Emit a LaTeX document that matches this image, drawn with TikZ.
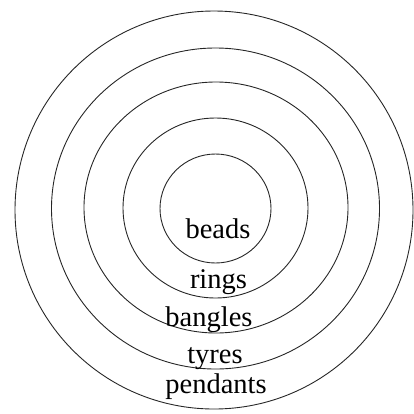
\documentclass[tikz,border=0pt]{standalone}
\usepackage{fontspec}
\setmainfont{Liberation Serif}
\begin{document}
\begin{tikzpicture}[x=1pt,y=-1pt,
  ring/.style={draw=black!85,line width=0.9pt},
  lbl/.style={anchor=base,inner sep=0pt,font=\fontsize{28.5}{30}\selectfont}]
\useasboundingbox (0,0) rectangle (414,413);
\draw[ring] (214,210) ellipse [x radius=199,y radius=199];
\draw[ring] (215.5,208.5) ellipse [x radius=164,y radius=160.5];
\draw[ring] (216,207.5) ellipse [x radius=132,y radius=125.5];
\draw[ring] (215.5,208) ellipse [x radius=92.5,y radius=90];
\draw[ring] (215.5,208.5) ellipse [x radius=55.5,y radius=54.5];
\node[lbl] (beads) at (218,238) {beads};
\node[lbl] (rings) at (218.5,288) {rings};
\node[lbl] (bangles) at (209,326) {bangles};
\node[lbl] (tyres) at (215,363) {tyres};
\node[lbl] (pendants) at (216,393) {pendants};
\end{tikzpicture}
\end{document}
